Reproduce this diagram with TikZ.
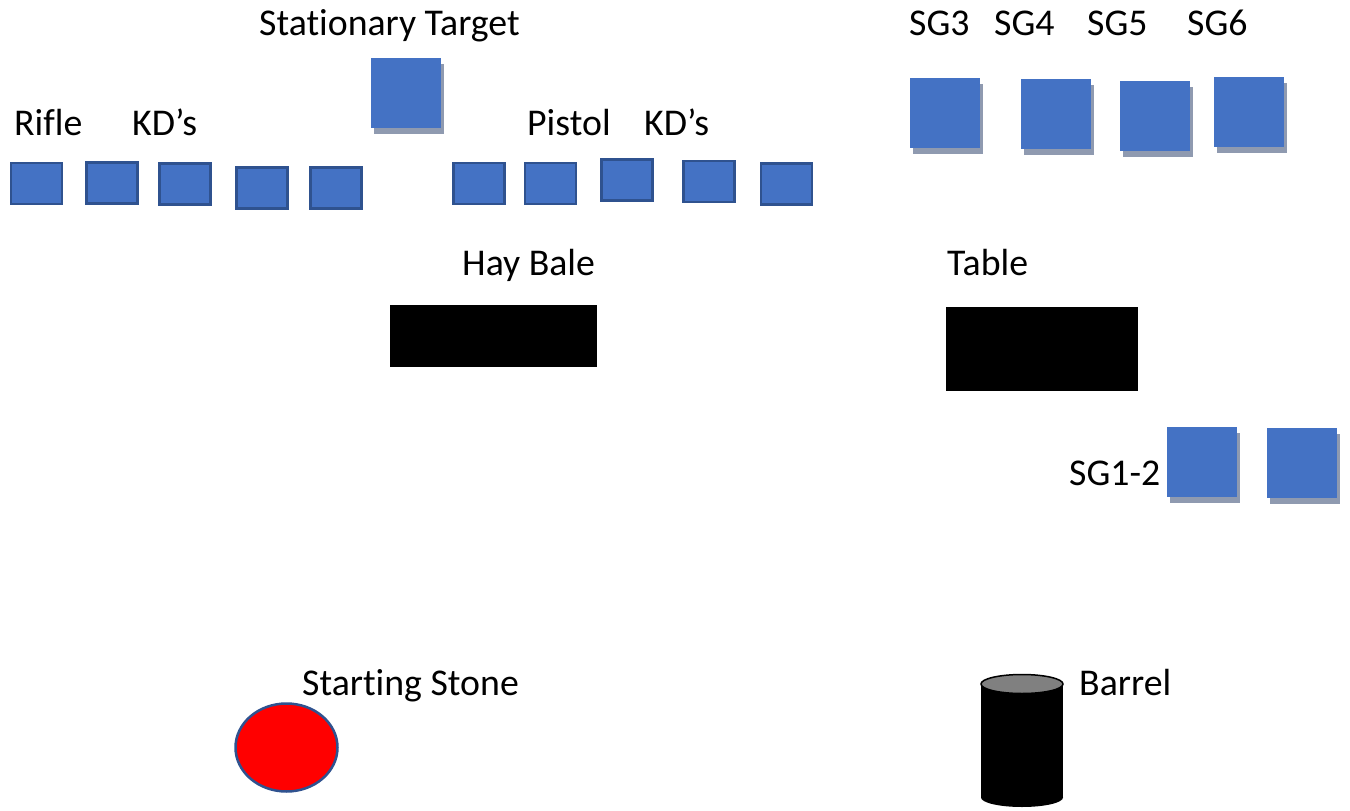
\documentclass[tikz,border=0pt]{standalone}
\usepackage{fontspec}
\setmainfont{Carlito}[Ligatures={NoCommon}]
\usetikzlibrary{shadows}
\definecolor{tblue}{RGB}{68,114,196}
\definecolor{tedge}{RGB}{47,82,143}
\definecolor{tshadow}{RGB}{143,154,176}
\definecolor{lidgrey}{RGB}{128,128,128}
\tikzset{
	kdbox/.style={draw=tedge,line width=2.5pt,fill=tblue,minimum width=51pt,minimum height=41pt,inner sep=0pt},
	sgbox/.style={fill=tblue,minimum size=70pt,inner sep=0pt,
		drop shadow={shadow xshift=3pt,shadow yshift=-5.5pt,fill=tshadow,opacity=1}},
	lbl/.style={anchor=base west,inner sep=0pt,font=\fontsize{37.8}{45}\selectfont}
}
\begin{document}
\begin{tikzpicture}[x=1pt,y=-1pt]
	\def\rx{41}
	\def\ry{9.5}
	\useasboundingbox (0,0) rectangle (1350,811);
	% labels
	\node[lbl] (stat) at (259,35) {Stationary Target};
	\node[lbl] (rifle) at (14,135) {Rifle};
	\node[lbl] (kdr) at (132,135) {KD’s};
	\node[lbl] (pistol) at (527,135) {Pistol};
	\node[lbl] (kdp) at (644,135) {KD’s};
	\node[lbl] (sg3) at (909,35) {SG3};
	\node[lbl] (sg4) at (994,35) {SG4};
	\node[lbl] (sg5) at (1087,35) {SG5};
	\node[lbl] (sg6) at (1187,35) {SG6};
	\node[lbl] (hay) at (462,275) {Hay Bale};
	\node[lbl] (table) at (947,275) {Table};
	\node[lbl] (sg12) at (1069,485) {SG1-2};
	\node[lbl] (start) at (302,695) {Starting Stone};
	\node[lbl] (barrel) at (1079,695) {Barrel};
	% steel targets
	\node[sgbox] (target) at (406,93) {};
	\node[sgbox] (sgiii) at (945,113) {};
	\node[sgbox] (sgiv) at (1056,114) {};
	\node[sgbox] (sgv) at (1155,116) {};
	\node[sgbox] (sgvi) at (1249,112) {};
	\node[sgbox] (sgi) at (1202,462) {};
	\node[sgbox] (sgii) at (1302,463) {};
	% knock downs
	\node[kdbox] (rkda) at (36.5,183.5) {};
	\node[kdbox] (rkdb) at (112,183) {};
	\node[kdbox] (rkdc) at (185,184) {};
	\node[kdbox] (rkdd) at (262,188) {};
	\node[kdbox] (rkde) at (336,188) {};
	\node[kdbox] (pkda) at (479,183.5) {};
	\node[kdbox] (pkdb) at (550.5,183.5) {};
	\node[kdbox] (pkdc) at (627,180) {};
	\node[kdbox] (pkdd) at (709,181.5) {};
	\node[kdbox] (pkde) at (786.5,184) {};
	% props
	\fill (390,305) rectangle (597,367);
	\fill (946,307) rectangle (1138,391);
	\draw[draw=tedge,line width=2.5pt,fill=red] (286.5,747.5) ellipse [x radius=51,y radius=44];
	\fill (1022,797.5) ellipse [x radius=\rx,y radius=\ry];
	\fill (1022-\rx,684) rectangle (1022+\rx,797.5);
	\draw[line width=1.5pt,fill=lidgrey] (1022,684) ellipse [x radius=\rx,y radius=\ry];
\end{tikzpicture}
\end{document}
